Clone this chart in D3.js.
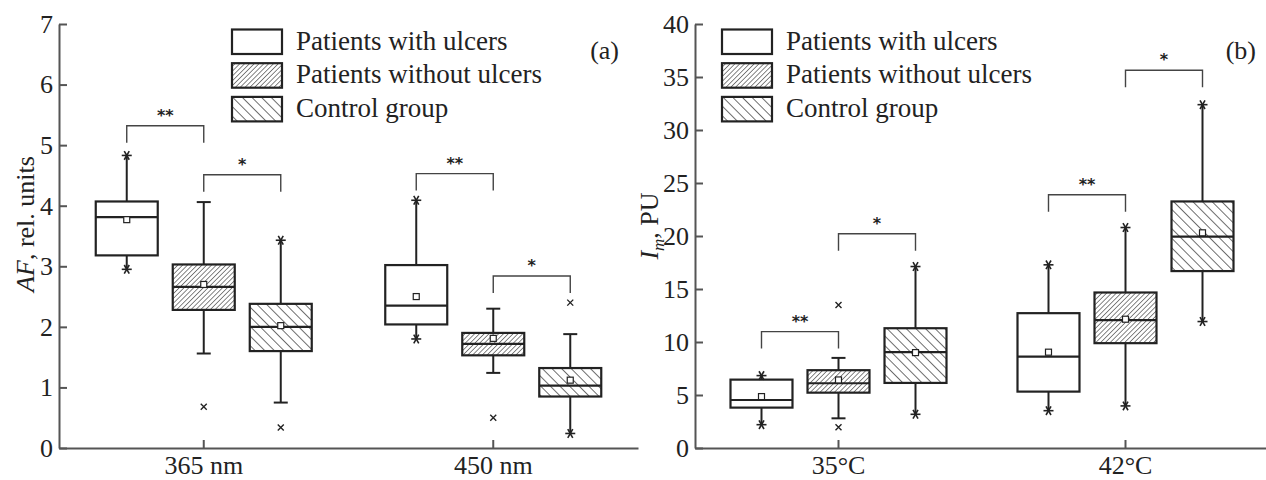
<!DOCTYPE html>
<html>
<head>
<meta charset="utf-8">
<script src="https://cdn.jsdelivr.net/npm/d3@7"></script>
<style>
  body { margin: 0; background: #fff; }
  svg text { font-family: "Liberation Serif", "Tinos", "Times New Roman", "DejaVu Serif", serif; fill: #222; }
</style>
</head>
<body>
<svg id="chart" width="1266" height="480"></svg>
<script>
// series shared by both panels
const seriesNames = ["Patients with ulcers", "Patients without ulcers", "Control group"];

// panel (a): autofluorescence
const afGroups = ["365 nm", "450 nm"];
const afTicks = [0, 1, 2, 3, 4, 5, 6, 7];
const afQ1     = [[3.18, 2.28, 1.60], [2.04, 1.53, 0.85]];
const afMedian = [[3.81, 2.66, 2.00], [2.35, 1.72, 1.03]];
const afQ3     = [[4.07, 3.03, 2.38], [3.02, 1.90, 1.32]];
const afMean   = [[3.77, 2.70, 2.02], [2.50, 1.81, 1.12]];
const afLow    = [[2.95, 1.56, 0.75], [1.80, 1.24, 0.24]];
const afHigh   = [[4.83, 4.06, 3.43], [4.09, 2.30, 1.88]];
// is the whisker end the extreme value (min / max)?
const afLowIsMin  = [[true, false, false], [true, false, true]];
const afHighIsMax = [[true, false, true], [true, false, false]];
const afOutliers  = [[[], [0.68], [0.34]], [[], [0.50], [2.40]]];
// [group, from series, to series, level, label]
const afBrackets = [[0, 0, 1, 5.32, "**"], [0, 1, 2, 4.51, "*"], [1, 0, 1, 4.53, "**"], [1, 1, 2, 2.84, "*"]];

// panel (b): perfusion
const imGroups = ["35°C", "42°C"];
const imTicks = [0, 5, 10, 15, 20, 25, 30, 35, 40];
const imQ1     = [[3.81, 5.22, 6.14], [5.32, 9.89, 16.69]];
const imMedian = [[4.53, 6.11, 9.04], [8.62, 12.06, 19.95]];
const imQ3     = [[6.45, 7.34, 11.30], [12.72, 14.67, 23.26]];
const imMean   = [[4.85, 6.42, 9.00], [9.04, 12.15, 20.30]];
const imLow    = [[2.20, 2.80, 3.18], [3.52, 3.97, 11.93]];
const imHigh   = [[6.83, 8.50, 17.12], [17.28, 20.80, 32.39]];
const imLowIsMin  = [[true, false, true], [true, true, true]];
const imHighIsMax = [[true, false, true], [true, true, true]];
const imOutliers  = [[[], [13.5, 1.95], []], [[], [], []]];
const imBrackets = [[0, 0, 1, 10.98, "**"], [0, 1, 2, 20.21, "*"], [1, 0, 1, 23.89, "**"], [1, 1, 2, 35.63, "*"]];

const svg = d3.select("#chart");
const ink = "#222";
const serif = '"Liberation Serif", "Tinos", "Times New Roman", "DejaVu Serif", serif';

// hatch patterns
const defs = svg.append("defs");
function hatch(id, gap, angle, sw) {
  const p = defs.append("pattern")
      .attr("id", id)
      .attr("patternUnits", "userSpaceOnUse")
      .attr("width", gap).attr("height", gap)
      .attr("patternTransform", "rotate(" + angle + ")");
  p.append("rect").attr("width", gap).attr("height", gap).attr("fill", "#fff");
  p.append("line").attr("x1", 0).attr("y1", 0).attr("x2", 0).attr("y2", gap)
      .attr("stroke", ink).attr("stroke-width", sw);
}
hatch("fine", 3.4, 45, 1.1);
hatch("wide", 6.8, -45, 1.3);
const fills = ["#fff", "url(#fine)", "url(#wide)"];

function starMark(g, cx, cy) {
  const r = 5;
  [0, 60, 120].forEach(a => {
    const t = a * Math.PI / 180;
    g.append("line")
      .attr("x1", cx - r * Math.cos(t)).attr("y1", cy - r * Math.sin(t))
      .attr("x2", cx + r * Math.cos(t)).attr("y2", cy + r * Math.sin(t))
      .attr("stroke", ink).attr("stroke-width", 1.6);
  });
}
function crossMark(g, cx, cy) {
  const r = 3;
  g.append("path")
    .attr("d", `M${cx - r},${cy - r}L${cx + r},${cy + r}M${cx - r},${cy + r}L${cx + r},${cy - r}`)
    .attr("stroke", ink).attr("stroke-width", 1.4);
}

function drawPanel(p) {
  const g = svg.append("g");
  const y = d3.scaleLinear().domain([0, p.yMax]).range([448, 24]);
  const x = d3.scaleBand().domain(p.groups).range([p.left, p.right]);
  const xs = d3.scaleBand().domain(seriesNames).range([-108, 108]).paddingInner(0.195);
  const bw = xs.bandwidth();
  const cxOf = (gi, si) => x(p.groups[gi]) + x.bandwidth() / 2 + xs(seriesNames[si]) + bw / 2;

  const ya = g.append("g")
      .attr("transform", `translate(${p.left},0)`)
      .call(d3.axisLeft(y).tickValues(p.ticks).tickFormat(d3.format("d"))
        .tickSize(-8).tickSizeOuter(0).tickPadding(6));
  const xa = g.append("g")
      .attr("transform", "translate(0,448)")
      .call(d3.axisBottom(x).tickSize(-8).tickSizeOuter(0).tickPadding(8));
  [ya, xa].forEach(a => {
    a.attr("font-family", serif).attr("font-size", 26);
    a.selectAll("path, line").attr("stroke", "#555").attr("stroke-width", 2);
    a.selectAll("text").attr("fill", ink);
  });

  p.groups.forEach((grp, gi) => {
    seriesNames.forEach((s, si) => {
      const cx = cxOf(gi, si);
      const x0 = cx - bw / 2;
      // whiskers
      g.append("line").attr("x1", cx).attr("x2", cx)
        .attr("y1", y(p.q3[gi][si])).attr("y2", y(p.high[gi][si]))
        .attr("stroke", ink).attr("stroke-width", 2);
      g.append("line").attr("x1", cx).attr("x2", cx)
        .attr("y1", y(p.q1[gi][si])).attr("y2", y(p.low[gi][si]))
        .attr("stroke", ink).attr("stroke-width", 2);
      // box
      g.append("rect")
        .attr("x", x0).attr("y", y(p.q3[gi][si]))
        .attr("width", bw).attr("height", y(p.q1[gi][si]) - y(p.q3[gi][si]))
        .attr("fill", fills[si]).attr("stroke", ink).attr("stroke-width", 2.2);
      g.append("line").attr("x1", x0).attr("x2", x0 + bw)
        .attr("y1", y(p.median[gi][si])).attr("y2", y(p.median[gi][si]))
        .attr("stroke", ink).attr("stroke-width", 2.2);
      g.append("rect")
        .attr("x", cx - 3).attr("y", y(p.mean[gi][si]) - 3)
        .attr("width", 6).attr("height", 6)
        .attr("fill", "#fff").attr("stroke", ink).attr("stroke-width", 1.2);
      // whisker ends
      [[p.high, p.highIsMax], [p.low, p.lowIsMin]].forEach(([vals, ext]) => {
        const yy = y(vals[gi][si]);
        if (ext[gi][si]) starMark(g, cx, yy);
        else g.append("line").attr("x1", cx - 7).attr("x2", cx + 7)
               .attr("y1", yy).attr("y2", yy).attr("stroke", ink).attr("stroke-width", 2);
      });
      p.outliers[gi][si].forEach(v => crossMark(g, cx, y(v)));
    });
  });

  // significance brackets
  p.brackets.forEach(([gi, a, b, lv, lab]) => {
    const x1 = cxOf(gi, a), x2 = cxOf(gi, b), yy = y(lv);
    g.append("path")
      .attr("d", `M${x1},${yy + 17}V${yy}H${x2}V${yy + 17}`)
      .attr("fill", "none").attr("stroke", "#444").attr("stroke-width", 1.4);
    g.append("text")
      .attr("x", (x1 + x2) / 2).attr("y", yy - 5)
      .attr("text-anchor", "middle")
      .style("font-family", "DejaVu Sans").style("font-weight", "bold").style("font-size", "16px")
      .text(lab);
  });

  // legend
  seriesNames.forEach((s, si) => {
    const ly = 29.5 + si * 33.7;
    g.append("rect").attr("x", p.legendX).attr("y", ly).attr("width", 50).attr("height", 24.5)
      .attr("fill", fills[si]).attr("stroke", ink).attr("stroke-width", 2.2);
    g.append("text").attr("x", p.legendX + 64).attr("y", ly + 20)
      .style("font-size", "27px").text(s);
  });

  g.append("text").attr("x", p.letterX).attr("y", 59)
    .attr("text-anchor", "end").style("font-size", "26px").text(p.letter);

  const t = g.append("text")
    .attr("transform", `translate(${p.titleX},${p.titleY}) rotate(-90)`)
    .attr("text-anchor", "middle").style("font-size", "26px");
  p.title(t);
}

drawPanel({
  groups: afGroups, ticks: afTicks, yMax: 7, left: 59, right: 638,
  q1: afQ1, median: afMedian, q3: afQ3, mean: afMean, low: afLow, high: afHigh,
  lowIsMin: afLowIsMin, highIsMax: afHighIsMax, outliers: afOutliers, brackets: afBrackets,
  legendX: 232, letter: "(a)", letterX: 619, titleX: 34, titleY: 224,
  title: t => {
    t.append("tspan").style("font-style", "italic").text("AF");
    t.append("tspan").text(", rel. units");
  }
});

drawPanel({
  groups: imGroups, ticks: imTicks, yMax: 40, left: 695, right: 1269,
  q1: imQ1, median: imMedian, q3: imQ3, mean: imMean, low: imLow, high: imHigh,
  lowIsMin: imLowIsMin, highIsMax: imHighIsMax, outliers: imOutliers, brackets: imBrackets,
  legendX: 722, letter: "(b)", letterX: 1256, titleX: 658, titleY: 226,
  title: t => {
    t.append("tspan").style("font-style", "italic").text("I");
    t.append("tspan").style("font-style", "italic").style("font-size", "17px").attr("dy", 6).text("m");
    t.append("tspan").attr("dy", -6).text(", PU");
  }
});
</script>
</body>
</html>
